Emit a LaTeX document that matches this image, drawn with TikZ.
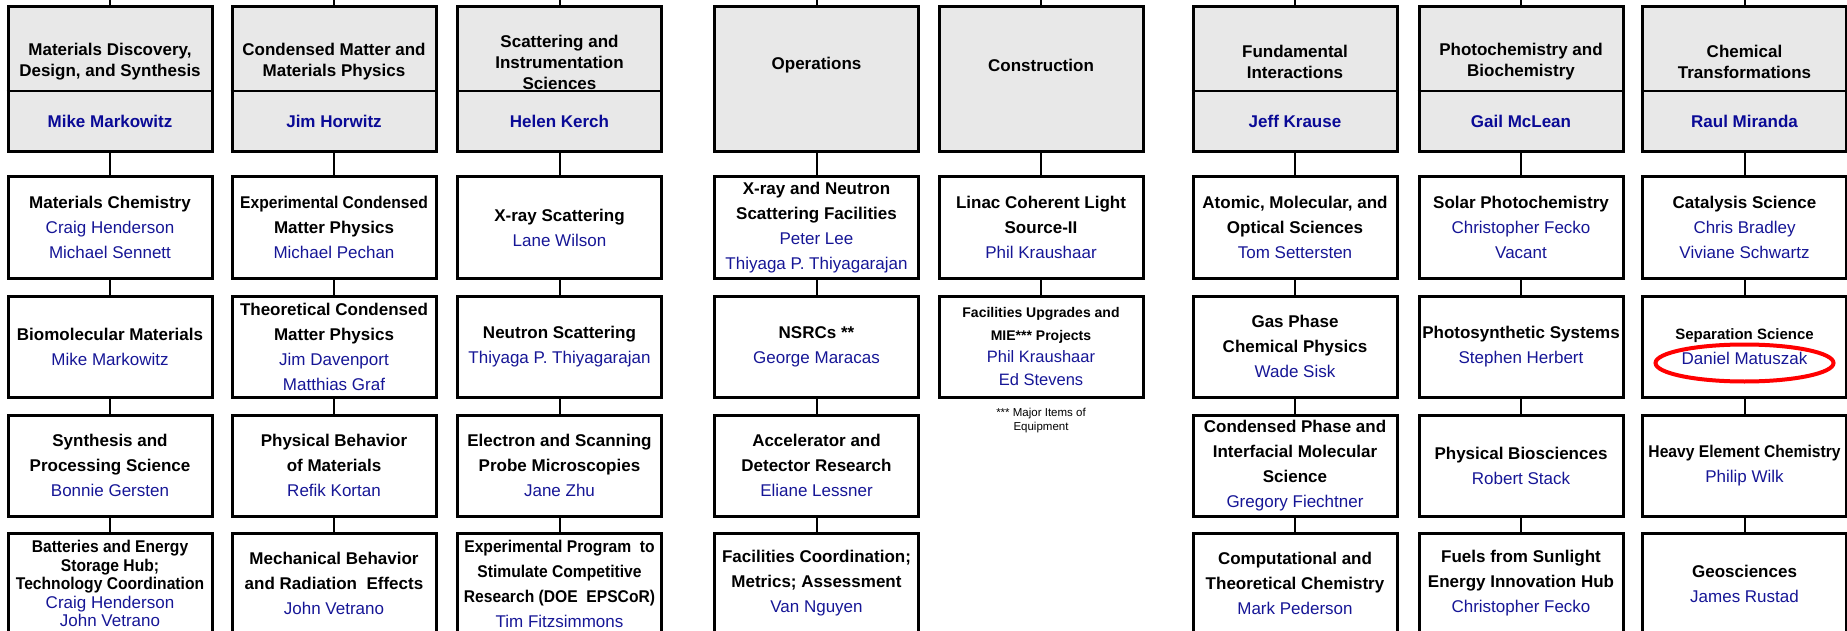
\documentclass[tikz,border=0pt]{standalone}
\usepackage{fontspec}
\setmainfont{Liberation Sans}
\newfontfamily\narrowsans[FakeStretch=0.92]{Liberation Sans}

\definecolor{boxgray}{HTML}{E8E8E8}
\definecolor{bossblue}{HTML}{0A0A96}
\definecolor{nameblue}{HTML}{161696}

\newcommand{\ttl}[1]{{\bfseries #1}}
\newcommand{\nttl}[1]{{\narrowsans\bfseries #1}}
\newcommand{\who}[1]{{\color{nameblue}#1}}

\tikzset{
  unitbox/.style={draw, line width=3pt, minimum width=204pt, minimum height=101pt, inner sep=0pt, align=center, font={\fontsize{17}{25}\selectfont}},
  divbox/.style={unitbox, fill=boxgray, minimum height=145pt},
  divtitle/.style={align=center, inner sep=0pt, yshift=17.5pt, font={\fontsize{17}{21}\selectfont\bfseries}},
  divboss/.style={inner sep=0pt, yshift=-41.5pt, text=bossblue, font={\fontsize{17}{21}\selectfont\bfseries}},
  divrule/.style={line width=2.2pt},
  wire/.style={line width=2pt},
  note/.style={align=center, inner sep=0pt, font={\fontsize{11.5}{14}\selectfont}},
  ring/.style={draw=red, line width=4pt},
}

\begin{document}
\begin{tikzpicture}[x=1pt,y=-1pt]
    \pgfmathsetmacro{\cola}{110}
    \pgfmathsetmacro{\colb}{334}
    \pgfmathsetmacro{\colc}{559.5}
    \pgfmathsetmacro{\cold}{816.5}
    \pgfmathsetmacro{\cole}{1041}
    \pgfmathsetmacro{\colf}{1295}
    \pgfmathsetmacro{\colg}{1521}
    \pgfmathsetmacro{\colh}{1744.5}
    \pgfmathsetmacro{\rowhead}{79.5}
    \pgfmathsetmacro{\rowa}{227.5}
    \pgfmathsetmacro{\rowb}{346.5}
    \pgfmathsetmacro{\rowc}{465.5}
    \pgfmathsetmacro{\rowd}{583.5}
    \useasboundingbox (0,0) rectangle (1847,631);
    \coordinate (ceiling) at (0,-3);

    % division heads
    \node[divbox] (mds) at (\cola,\rowhead) {};
    \node[divtitle] (mdst) at (mds) {Materials Discovery,\\Design, and Synthesis};
    \node[divboss] (mdsb) at (mds) {Mike Markowitz};
    \node[divbox] (cmp) at (\colb,\rowhead) {};
    \node[divtitle] (cmpt) at (cmp) {Condensed Matter and\\Materials Physics};
    \node[divboss] (cmpb) at (cmp) {Jim Horwitz};
    \node[divbox] (sis) at (\colc,\rowhead) {};
    \node[divtitle] (sist) at (sis) {Scattering and\\Instrumentation\\Sciences};
    \node[divboss] (sisb) at (sis) {Helen Kerch};
    \node[divbox] (ops) at (\cold,\rowhead) {};
    \node[divtitle, yshift=-3pt] (opst) at (ops) {Operations};
    \node[divbox] (con) at (\cole,\rowhead) {};
    \node[divtitle, yshift=-3pt] (cont) at (con) {Construction};
    \node[divbox] (fi) at (\colf,\rowhead) {};
    \node[divtitle] (fit) at (fi) {Fundamental\\Interactions};
    \node[divboss] (fib) at (fi) {Jeff Krause};
    \node[divbox] (pb) at (\colg,\rowhead) {};
    \node[divtitle] (pbt) at (pb) {Photochemistry and\\Biochemistry};
    \node[divboss] (pbb) at (pb) {Gail McLean};
    \node[divbox] (ct) at (\colh,\rowhead) {};
    \node[divtitle] (ctt) at (ct) {Chemical\\Transformations};
    \node[divboss] (ctb) at (ct) {Raul Miranda};
    \foreach \c in {mds,cmp,sis,fi,pb,ct}
        \draw[divrule] ([yshift=-11.5pt]\c.west) -- ([yshift=-11.5pt]\c.east);

    % Materials Discovery, Design, and Synthesis
    \node[unitbox] (mds1) at (\cola,\rowa) {\ttl{Materials Chemistry}\\\who{Craig Henderson}\\\who{Michael Sennett}};
    \node[unitbox] (mds2) at (\cola,\rowb) {\ttl{Biomolecular Materials}\\\who{Mike Markowitz}};
    \node[unitbox] (mds3) at (\cola,\rowc) {\ttl{Synthesis and}\\\ttl{Processing Science}\\\who{Bonnie Gersten}};
    \node[unitbox, font={\fontsize{17}{18.5}\selectfont}] (mds4) at (\cola,\rowd) {\nttl{Batteries and Energy}\\\nttl{Storage Hub;}\\\nttl{Technology Coordination}\\\who{Craig Henderson}\\\who{John Vetrano}};

    % Condensed Matter and Materials Physics
    \node[unitbox] (cmp1) at (\colb,\rowa) {\nttl{Experimental Condensed}\\\ttl{Matter Physics}\\\who{Michael Pechan}};
    \node[unitbox] (cmp2) at (\colb,\rowb) {\ttl{Theoretical Condensed}\\\ttl{Matter Physics}\\\who{Jim Davenport}\\\who{Matthias Graf}};
    \node[unitbox] (cmp3) at (\colb,\rowc) {\ttl{Physical Behavior}\\\ttl{of Materials}\\\who{Refik Kortan}};
    \node[unitbox] (cmp4) at (\colb,\rowd) {\ttl{Mechanical Behavior}\\\ttl{and Radiation\ \ Effects}\\\who{John Vetrano}};

    % Scattering and Instrumentation Sciences
    \node[unitbox] (sis1) at (\colc,\rowa) {\ttl{X-ray Scattering}\\\who{Lane Wilson}};
    \node[unitbox] (sis2) at (\colc,\rowb) {\ttl{Neutron Scattering}\\\who{Thiyaga P. Thiyagarajan}};
    \node[unitbox] (sis3) at (\colc,\rowc) {\ttl{Electron and Scanning}\\\ttl{Probe Microscopies}\\\who{Jane Zhu}};
    \node[unitbox] (sis4) at (\colc,\rowd) {\nttl{Experimental Program\ \ to}\\\nttl{Stimulate Competitive}\\\nttl{Research (DOE\ \ EPSCoR)}\\\who{Tim Fitzsimmons}};

    % Operations
    \node[unitbox] (ops1) at (\cold,\rowa) {\ttl{X-ray and Neutron}\\\ttl{Scattering Facilities}\\\who{Peter Lee}\\\who{Thiyaga P. Thiyagarajan}};
    \node[unitbox] (ops2) at (\cold,\rowb) {\ttl{NSRCs **}\\\who{George Maracas}};
    \node[unitbox] (ops3) at (\cold,\rowc) {\ttl{Accelerator and}\\\ttl{Detector Research}\\\who{Eliane Lessner}};
    \node[unitbox] (ops4) at (\cold,\rowd) {\ttl{Facilities Coordination;}\\\ttl{Metrics; Assessment}\\\who{Van Nguyen}};

    % Construction
    \node[unitbox] (con1) at (\cole,\rowa) {\ttl{Linac Coherent Light}\\\ttl{Source-II}\\\who{Phil Kraushaar}};
    \node[unitbox, font={\fontsize{16.5}{22.5}\selectfont}] (con2) at (\cole,\rowb) {{\fontsize{14}{22.5}\selectfont\bfseries Facilities Upgrades and}\\{\fontsize{14}{22.5}\selectfont\bfseries MIE*** Projects}\\\who{Phil Kraushaar}\\\who{Ed Stevens}};
    \node[note] (mie) at (\cole,421) {*** Major Items of\\Equipment};

    % Fundamental Interactions
    \node[unitbox] (fi1) at (\colf,\rowa) {\ttl{Atomic, Molecular, and}\\\ttl{Optical Sciences}\\\who{Tom Settersten}};
    \node[unitbox] (fi2) at (\colf,\rowb) {\ttl{Gas Phase}\\\ttl{Chemical Physics}\\\who{Wade Sisk}};
    \node[unitbox] (fi3) at (\colf,\rowc) {\ttl{Condensed Phase and}\\\ttl{Interfacial Molecular}\\\ttl{Science}\\\who{Gregory Fiechtner}};
    \node[unitbox] (fi4) at (\colf,\rowd) {\ttl{Computational and}\\\ttl{Theoretical Chemistry}\\\who{Mark Pederson}};

    % Photochemistry and Biochemistry
    \node[unitbox] (pb1) at (\colg,\rowa) {\ttl{Solar Photochemistry}\\\who{Christopher Fecko}\\\who{Vacant}};
    \node[unitbox] (pb2) at (\colg,\rowb) {\ttl{Photosynthetic Systems}\\\who{Stephen Herbert}};
    \node[unitbox] (pb3) at (\colg,\rowc) {\ttl{Physical Biosciences}\\\who{Robert Stack}};
    \node[unitbox] (pb4) at (\colg,\rowd) {\ttl{Fuels from Sunlight}\\\ttl{Energy Innovation Hub}\\\who{Christopher Fecko}};

    % Chemical Transformations
    \node[unitbox] (ct1) at (\colh,\rowa) {\ttl{Catalysis Science}\\\who{Chris Bradley}\\\who{Viviane Schwartz}};
    \node[unitbox] (ct2) at (\colh,\rowb) {{\fontsize{15}{25}\selectfont\bfseries Separation Science}\\\who{Daniel Matuszak}};
    \node[unitbox] (ct3) at (\colh,\rowc) {\nttl{Heavy Element Chemistry}\\\who{Philip Wilk}};
    \node[unitbox] (ct4) at (\colh,\rowd) {\ttl{Geosciences}\\\who{James Rustad}};
    \draw[ring] ([yshift=-16.5pt]ct2.center) ellipse [x radius=89pt, y radius=18.5pt];

    % connectors
    \foreach \c in {mds,cmp,sis,ops,con,fi,pb,ct} {
        \coordinate (\c-up) at (\c.north |- ceiling);
        \draw[wire] (\c-up) -- (\c);
    }
    \foreach \c in {mds,cmp,sis,ops,fi,pb,ct}
        \draw[wire] (\c) -- (\c1) (\c1) -- (\c2) (\c2) -- (\c3) (\c3) -- (\c4);
    \draw[wire] (con) -- (con1) (con1) -- (con2);
\end{tikzpicture}
\end{document}
